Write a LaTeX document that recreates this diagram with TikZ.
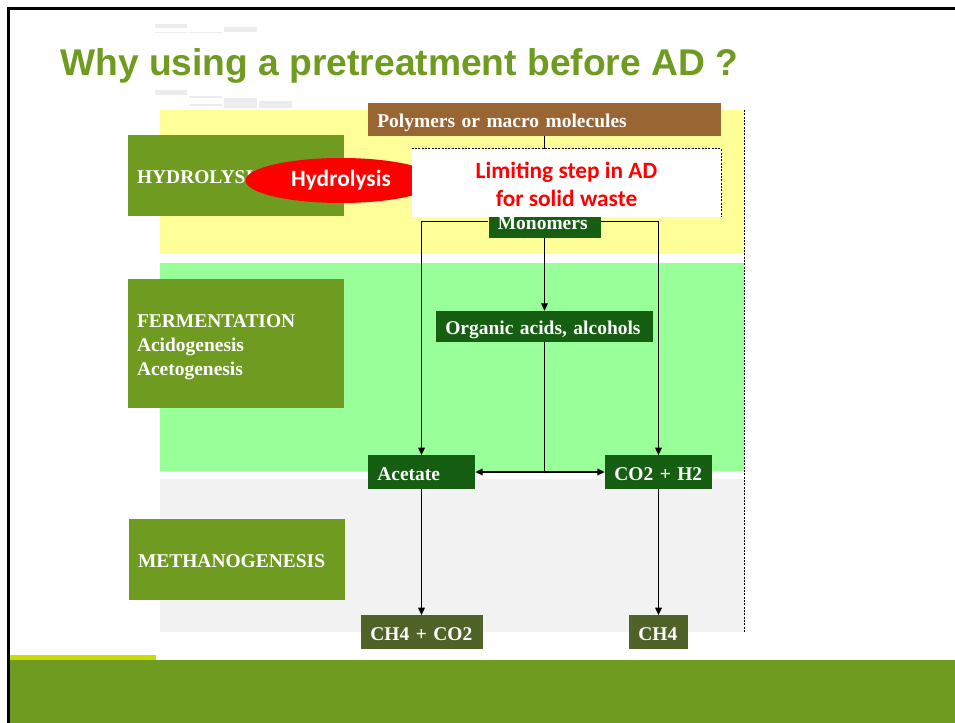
\documentclass[tikz,border=0pt]{standalone}
\usepackage{fontspec}
\setmainfont{Liberation Serif}
\newfontfamily\arialfont{Liberation Sans}
\newfontfamily\calibrifont{Carlito}
\usetikzlibrary{arrows.meta,shapes.geometric}
\definecolor{slidegreen}{RGB}{111,155,33}
\definecolor{limestrip}{RGB}{200,220,0}
\definecolor{hydroband}{RGB}{255,255,153}
\definecolor{fermband}{RGB}{153,255,153}
\definecolor{methband}{RGB}{242,242,242}
\definecolor{polybrown}{RGB}{153,102,51}
\definecolor{molgreen}{RGB}{22,94,18}
\definecolor{gasolive}{RGB}{79,98,40}
\definecolor{ghostgray}{RGB}{236,236,236}
\begin{document}
\begin{tikzpicture}[x=0.75pt, y=-0.75pt]
    \tikzstyle{stage} = [fill=slidegreen, text=white, font=\fontsize{14.6}{18}\selectfont\bfseries, inner xsep=6.75pt, inner ysep=0pt, text width=148.5pt, align=left, text height=12pt, text depth=0pt]
    \tikzstyle{compound} = [fill=molgreen, text=white, font=\fontsize{14.6}{18}\selectfont\bfseries, inner xsep=7pt, inner ysep=0pt, minimum height=25pt, align=left, text height=12pt, text depth=0pt]
    \tikzstyle{product} = [compound, fill=gasolive]
    \tikzstyle{flow} = [line width=0.8pt, -{Triangle[length=5.5pt, width=5pt]}]
    \tikzstyle{redtext} = [font=\calibrifont\fontsize{17.5}{21}\selectfont\bfseries]
    \useasboundingbox (0,0) rectangle (955,723);
    % slide frame and footer
    \fill[white] (0,0) rectangle (955,723);
    \fill[slidegreen] (8,660) rectangle (955,723);
    \fill[limestrip] (10,655) rectangle (156,660);
    \draw[line width=2pt] (8.7,723) -- (8.7,8.3) -- (955,8.3);
    % faint marks behind the title
    \fill[ghostgray] (155,24) rectangle (187,28);
    \fill[ghostgray] (155,32) rectangle (187,33.5);
    \fill[ghostgray] (189,32) rectangle (222,33.5);
    \fill[ghostgray] (224,27) rectangle (257,32);
    \fill[ghostgray] (155,90) rectangle (187,95);
    \fill[ghostgray] (189,96) rectangle (222,98);
    \fill[ghostgray] (189,104) rectangle (222,106);
    \fill[ghostgray] (224,98) rectangle (257,108);
    \fill[ghostgray] (259,101) rectangle (292,108);
    \node[anchor=base west, text=slidegreen, font=\arialfont\fontsize{27.9}{32}\selectfont\bfseries, inner sep=0pt] (title) at (60,75.5) {Why using a pretreatment before AD ?};
    % stage bands
    \fill[hydroband] (160,110) rectangle (744,254);
    \fill[fermband] (160,263) rectangle (744,471);
    \fill[methband] (160,479) rectangle (744,632);
    \draw[line width=0.5pt, dash pattern=on 1.5pt off 1pt] (744,110) -- (744,632);
    % stage labels
    \node[stage, minimum height=60.75pt] (hydro) at (236,175.5) {HYDROLYSIS};
    \node[stage, minimum height=96.75pt, text depth=36pt] (ferm) at (236,343.5) {FERMENTATION\\Acidogenesis\\Acetogenesis};
    \node[stage, minimum height=60.75pt] (meth) at (237,559.5) {METHANOGENESIS};
    \node[ellipse, fill=red, text=white, redtext, inner sep=0pt, minimum width=143.25pt, minimum height=33.75pt] (hyd) at (341,180.5) {Hydrolysis};
    % compounds
    \node[compound, fill=polybrown, text width=250.75pt] (poly) at (544.5,119.5) {Polymers or macro molecules};
    \node[compound, text width=70pt] (mono) at (544.5,221.5) {Monomers};
    \node[fill=white, text=red, redtext, align=center, inner sep=0pt, minimum width=231.75pt, minimum height=51pt] (limit) at (566.5,183) {\rule{0pt}{15pt}Limiting step in AD\\for solid waste};
    \draw[line width=0.5pt, dash pattern=on 1.5pt off 1pt] (limit.north west) -- (limit.north east) -- (limit.south east);
    \node[compound, text width=148.75pt, minimum height=23.25pt] (org) at (544.5,326.5) {Organic acids, alcohols};
    \node[compound, text width=66.25pt] (acet) at (421.5,472) {Acetate};
    \node[compound, text width=66.25pt] (co2) at (658.5,472) {CO2 + H2};
    \node[product, text width=77.5pt] (ch4co2) at (422,632) {CH4 + CO2};
    \node[product, text width=30.25pt] (ch4) at (658.5,632) {CH4};
    % connectors
    \draw[line width=0.8pt] (poly.south) -- (poly.south |- limit.north);
    \draw[flow] (mono.west) -| (acet.north);
    \draw[flow] (mono.east) -| (co2.north);
    \draw[flow] (mono.south) -- (mono.south |- org.north);
    \coordinate (split) at (org.south |- acet.east);
    \draw[line width=0.8pt] (org.south) -- (split);
    \draw[flow] (split) -- (acet.east);
    \draw[flow] (split) -- (co2.west);
    \draw[flow] (acet.south) -- (acet.south |- ch4co2.north);
    \draw[flow] (co2.south) -- (ch4.north);
\end{tikzpicture}
\end{document}
